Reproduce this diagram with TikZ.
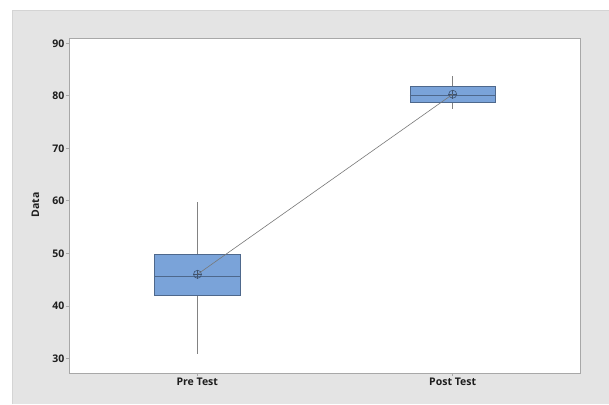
\documentclass[tikz,border=0pt]{standalone}
\usepackage{fontspec}
\setmainfont{Open Sans}
\definecolor{panelgray}{RGB}{228,228,228}
\definecolor{paneledge}{RGB}{212,212,212}
\definecolor{frameline}{RGB}{168,168,168}
\definecolor{boxfill}{RGB}{122,163,217}
\definecolor{boxedge}{RGB}{78,104,140}
\definecolor{whisker}{RGB}{130,130,130}
\definecolor{meanline}{RGB}{120,120,120}
\definecolor{labeltext}{RGB}{30,30,30}
\tikzset{
  ticklabel/.style={font=\fontsize{10.5}{12}\selectfont\bfseries, text=labeltext, inner sep=0pt},
  catlabel/.style={font=\fontsize{10.5}{12}\selectfont\bfseries, text=labeltext, inner sep=0pt},
  iqrbox/.style={draw=boxedge, fill=boxfill, line width=0.9pt},
  medianline/.style={draw=boxedge, line width=0.9pt},
  whiskerline/.style={draw=whisker, line width=0.8pt},
  meanlink/.style={draw=meanline, line width=0.6pt},
  meanmark/.style={circle, draw=boxedge!80!black, line width=0.6pt, minimum size=8pt, inner sep=0pt},
  tickmark/.style={draw=frameline, line width=0.6pt}
}
\begin{document}
\begin{tikzpicture}[x=1pt,y=1pt]
  % canvas: 609 x 404, origin bottom-left
  \useasboundingbox (0,0) rectangle (609,404);
  \fill[white] (0,0) rectangle (609,404);
  \fill[panelgray] (12.8,0) rectangle (609,394);
  \draw[paneledge, line width=0.8pt] (12.8,0) -- (12.8,394) -- (609,394);
  % plot area
  \coordinate (pa-sw) at (69.3,30.7);
  \coordinate (pa-ne) at (580.7,365.7);
  \fill[white] (pa-sw) rectangle (pa-ne);
  \draw[frameline, line width=0.8pt] (pa-sw) rectangle (pa-ne);

  % data scope: x in px, y in data units
  \begin{scope}[y=5.25pt, yshift=-111.8pt]
    % y axis ticks and labels
    \foreach \v in {30,40,50,60,70,80,90} {
      \coordinate (yt\v) at (69.3,\v);
      \draw[tickmark] (yt\v) -- ++(-3.5pt,0);
      \node[ticklabel, anchor=east] (yl\v) at (64.5,\v) {\v};
    }
    % x ticks
    \coordinate (xtpre) at (197.3,27.3);
    \coordinate (xtpost) at (452.7,27.3);

    % Pre Test box
    \coordinate (prelow) at (197.3,30.8);
    \coordinate (prehigh) at (197.3,59.8);
    \node[iqrbox, minimum width=85.7pt, minimum height={(49.7-41.8)*5.25pt}, inner sep=0pt, anchor=south] (prebox) at (197.3,41.8) {};
    \draw[whiskerline] (prebox.north) -- (prehigh);
    \draw[whiskerline] (prebox.south) -- (prelow);
    \draw[medianline] (prebox.west |- 0,45.5) -- (prebox.east |- 0,45.5);

    % Post Test box
    \coordinate (postlow) at (452.7,77.5);
    \coordinate (posthigh) at (452.7,83.8);
    \node[iqrbox, minimum width=85pt, minimum height={(81.7-78.6)*5.25pt}, inner sep=0pt, anchor=south] (postbox) at (452.7,78.6) {};
    \draw[whiskerline] (postbox.north) -- (posthigh);
    \draw[whiskerline] (postbox.south) -- (postlow);
    \draw[medianline] (postbox.west |- 0,80.1) -- (postbox.east |- 0,80.1);

    % means and connecting line
    \node[meanmark] (premean) at (197.5,46.0) {};
    \node[meanmark] (postmean) at (452.7,80.3) {};
    \draw[boxedge!80!black, line width=0.6pt] (premean.north) -- (premean.south) (premean.west) -- (premean.east);
    \draw[boxedge!80!black, line width=0.6pt] (postmean.north) -- (postmean.south) (postmean.west) -- (postmean.east);
    \draw[meanlink] (premean.center) -- (postmean.center);
  \end{scope}

  % x tick marks and category labels
  \draw[tickmark] (197.3,30.7) -- (197.3,28);
  \draw[tickmark] (452.7,30.7) -- (452.7,28);
  \node[catlabel, anchor=base] (prelabel) at (197.3,18.5) {Pre Test};
  \node[catlabel, anchor=base] (postlabel) at (452.7,18.5) {Post Test};

  % axis title
  \node[catlabel, rotate=90] (ytitle) at (35.5,199) {Data};
\end{tikzpicture}
\end{document}
